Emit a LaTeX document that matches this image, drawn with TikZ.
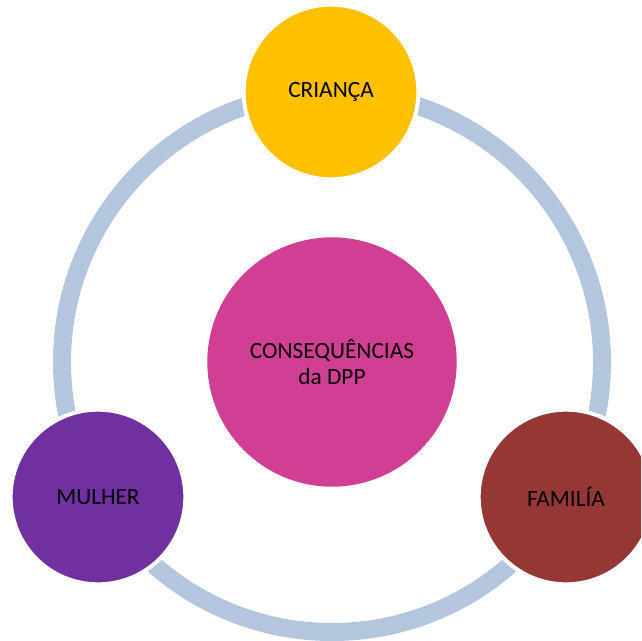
\documentclass[tikz,border=0pt]{standalone}
\usepackage{fontspec}
\setmainfont{Carlito}
\definecolor{anelcor}{RGB}{180,197,222}
\definecolor{ouro}{RGB}{255,192,0}
\definecolor{rosa}{RGB}{209,63,149}
\definecolor{roxo}{RGB}{112,48,160}
\definecolor{tijolo}{RGB}{149,55,53}

\begin{document}
\begin{tikzpicture}[x=0.75pt,y=-0.75pt,
  bola/.style={draw=white, line width=3pt, circle, minimum size=131pt, inner sep=0pt,
    align=center, font=\fontsize{17.5}{20}\selectfont},
  anel/.style={draw=anelcor, line width=13.5pt}]
\clip (0,0) rectangle (641,641);
\node[bola, fill=rosa, draw=none, minimum size=187pt] (centro) at (332,362) {CONSEQUÊNCIAS\\da DPP};
\draw[anel] (centro.center) circle[radius=270];
\node[bola, fill=ouro] (crianca) at (331,92) {CRIANÇA};
\node[bola, fill=roxo] (mulher) at (98,497) {MULHER};
\node[bola, fill=tijolo] (familia) at (566,497) {FAMILÍA};
\end{tikzpicture}
\end{document}
